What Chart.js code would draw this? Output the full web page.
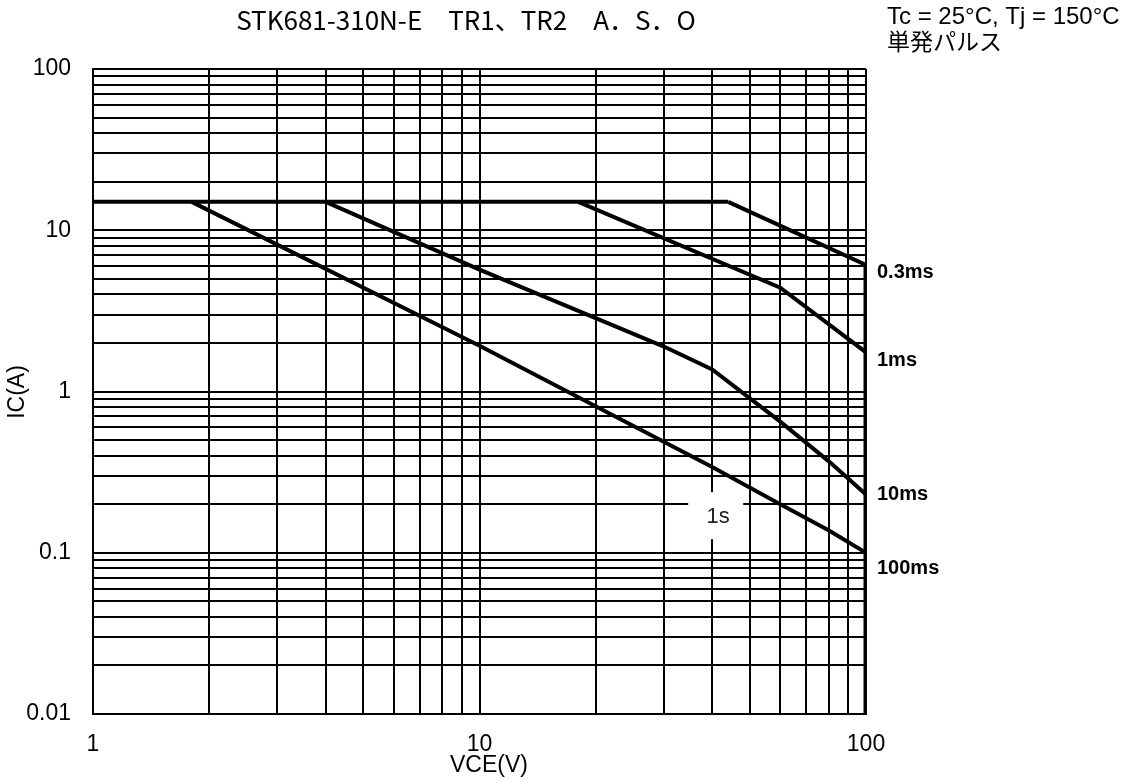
<!DOCTYPE html>
<html lang="ja">
<head>
<meta charset="UTF-8">
<title>STK681-310N-E TR1、TR2 A.S.O</title>
<script src="https://cdn.jsdelivr.net/npm/chart.js@4.4.1/dist/chart.umd.min.js"></script>
<style>
  html, body { margin: 0; padding: 0; background: #fff; }
  #wrap { width: 1134px; height: 783px; }
</style>
</head>
<body>
<div id="wrap"><canvas id="aso" width="1134" height="783"></canvas></div>
<script>
// grid lines (log, 1..9 per decade) and which of them get a label
const xTicks = [1,2,3,4,5,6,7,8,9,10,20,30,40,50,60,70,80,90,100];
const yTicks = [0.01,0.02,0.03,0.04,0.05,0.06,0.07,0.08,0.09,
                0.1,0.2,0.3,0.4,0.5,0.6,0.7,0.8,0.9,
                1,2,3,4,5,6,7,8,9,10,20,30,40,50,60,70,80,90,100];
const xLabels = [1, 10, 100];
const yLabels = [0.01, 0.1, 1, 10, 100];

// curves: VCE (V) / IC (A)
const icMaxV  = [1, 44];
const icMaxI  = [15, 15];
const ms03V   = [44, 100];
const ms03I   = [15, 6.1];
const ms1V    = [18, 60, 100];
const ms1I    = [15, 4.4, 1.75];
const ms10V   = [4, 10, 30, 40, 60, 80, 100];
const ms10I   = [15, 5.7, 1.9, 1.37, 0.65, 0.37, 0.23];
const ms100V  = [1.8, 10, 40, 60, 80, 100];
const ms100I  = [15, 1.92, 0.34, 0.2, 0.138, 0.1];
const edgeV   = [100, 100];
const edgeI   = [6.1, 0.01];

// curve labels: text and the IC value they sit at, right of 100 V
const curveLabels = ['0.3ms', '1ms', '10ms', '100ms'];
const curveLabelI = [5.5, 1.55, 0.23, 0.08];

const SANS = '"Liberation Sans", Arial, sans-serif';
const JP = '"Noto Sans CJK JP", sans-serif';

function pts(vs, is) {
  return vs.map((v, i) => ({ x: v, y: is[i] }));
}

function curve(vs, is, w) {
  return {
    data: pts(vs, is),
    borderColor: '#000',
    borderWidth: w || 4,
    pointRadius: 0,
    fill: false,
    tension: 0,
    borderJoinStyle: 'miter'
  };
}

const textPlugin = {
  id: 'texts',
  afterDatasetsDraw(chart) {
    const ctx = chart.ctx;
    const xs = chart.scales.x, ys = chart.scales.y;
    ctx.save();

    // "1s" label in a white box
    const bx = xs.getPixelForValue(40), by = ys.getPixelForValue(0.2);
    ctx.fillStyle = '#fff';
    ctx.fillRect(bx - 24, by - 12, 55, 47);
    ctx.fillStyle = '#222';
    ctx.font = '22px ' + SANS;
    ctx.textAlign = 'center';
    ctx.textBaseline = 'middle';
    ctx.fillText('1s', bx + 6, by + 13);

    // curve names on the right
    ctx.fillStyle = '#000';
    ctx.font = 'bold 20px ' + SANS;
    ctx.textAlign = 'left';
    const rx = xs.getPixelForValue(100) + 11;
    curveLabels.forEach((t, i) => ctx.fillText(t, rx, ys.getPixelForValue(curveLabelI[i])));

    // title and conditions
    ctx.font = '26px ' + JP;
    ctx.textAlign = 'center';
    ctx.fillText('STK681-310N-E　TR1、TR2　A．S．O', 466, 20);
    ctx.textAlign = 'left';
    ctx.font = '24px ' + SANS;
    ctx.fillText('Tc = 25°C, Tj = 150°C', 887, 17);
    ctx.font = '23px ' + JP;
    ctx.fillText('単発パルス', 887, 41);

    // axis titles
    ctx.font = '23px ' + SANS;
    ctx.textAlign = 'center';
    ctx.fillText('VCE(V)', 489, 766);
    ctx.translate(18, 392);
    ctx.rotate(-Math.PI / 2);
    ctx.fillText('IC(A)', 0, 0);
    ctx.restore();
  }
};

const gridOpts = { color: '#000', lineWidth: 2, drawTicks: false };
const tickFont = { family: SANS, size: 23 };

new Chart(document.getElementById('aso'), {
  type: 'line',
  data: {
    datasets: [
      curve(icMaxV, icMaxI),
      curve(ms03V, ms03I),
      curve(ms1V, ms1I),
      curve(ms10V, ms10I),
      curve(ms100V, ms100I),
      curve(edgeV, edgeI, 5)
    ]
  },
  options: {
    responsive: false,
    animation: false,
    layout: { padding: { top: 69, right: 268, bottom: 0, left: 0 } },
    plugins: {
      legend: { display: false },
      tooltip: { enabled: false }
    },
    scales: {
      x: {
        type: 'logarithmic',
        min: 1,
        max: 100,
        afterBuildTicks: s => { s.ticks = xTicks.map(v => ({ value: v })); },
        afterFit: s => { s.height = 69; },
        grid: gridOpts,
        border: { color: '#000', width: 2 },
        ticks: {
          autoSkip: false,
          maxRotation: 0,
          padding: 17,
          color: '#000',
          font: tickFont,
          callback: v => xLabels.includes(v) ? String(v) : ''
        }
      },
      y: {
        type: 'logarithmic',
        min: 0.01,
        max: 100,
        afterBuildTicks: s => { s.ticks = yTicks.map(v => ({ value: v })); },
        afterFit: s => { s.width = 93; },
        grid: gridOpts,
        border: { color: '#000', width: 2 },
        ticks: {
          autoSkip: false,
          padding: 22,
          color: '#000',
          font: tickFont,
          callback: v => yLabels.includes(v) ? String(v) : ''
        }
      }
    }
  },
  plugins: [textPlugin]
});
</script>
</body>
</html>
